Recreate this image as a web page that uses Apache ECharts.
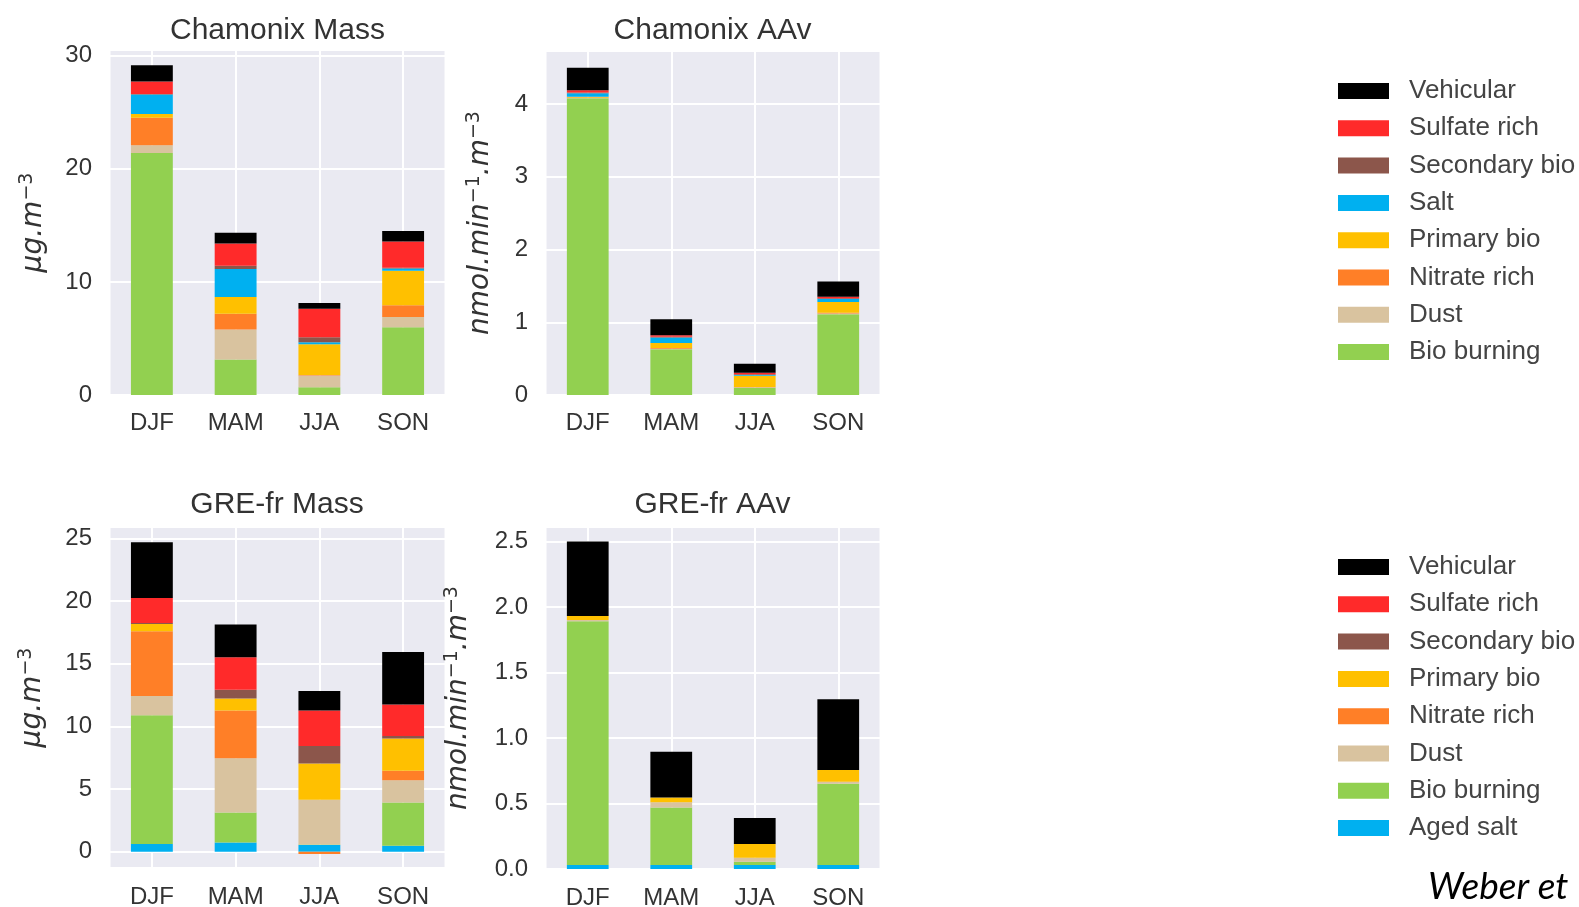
<!DOCTYPE html>
<html>
<head>
<meta charset="utf-8">
<script src="https://cdn.jsdelivr.net/npm/echarts@6/dist/echarts.min.js"></script>
<style>
  html, body { margin: 0; padding: 0; background: #ffffff; }
  #chart { width: 1579px; height: 907px; }
</style>
</head>
<body>
<div id="chart"></div>
<script>
// Seasons on the x axis
const seasons = ['DJF', 'MAM', 'JJA', 'SON'];

// Chamonix, PM10 mass contributions (µg/m3), stacked bottom to top
const chamMassBioBurning   = [21.4, 3.14, 0.68, 6.00];
const chamMassDust         = [0.67, 2.66, 1.04, 0.89];
const chamMassNitrate      = [2.43, 1.39, 0.05, 1.04];
const chamMassPrimaryBio   = [0.35, 1.48, 2.72, 3.05];
const chamMassSalt         = [1.72, 2.48, 0.18, 0.20];
const chamMassSecondaryBio = [0.05, 0.27, 0.44, 0.06];
const chamMassSulfate      = [1.10, 1.98, 2.51, 2.34];
const chamMassVehicular    = [1.44, 0.95, 0.51, 0.92];

// Chamonix, ascorbic acid OP (nmol/min/m3)
const chamAAvBioBurning   = [4.08, 0.63, 0.10, 1.11];
const chamAAvDust         = [0.005, 0.005, 0.005, 0.01];
const chamAAvNitrate      = [0.005, 0.01, 0.005, 0.01];
const chamAAvPrimaryBio   = [0.01, 0.07, 0.155, 0.15];
const chamAAvSalt         = [0.05, 0.075, 0.01, 0.04];
const chamAAvSecondaryBio = [0.01, 0.01, 0.01, 0.01];
const chamAAvSulfate      = [0.03, 0.02, 0.02, 0.02];
const chamAAvVehicular    = [0.31, 0.22, 0.125, 0.21];

// Grenoble, PM10 mass contributions (µg/m3)
const greMassAgedSalt     = [0.61, 0.74, 0.53, 0.48];
const greMassBioBurning   = [10.27, 2.39, 0.05, 3.45];
const greMassDust         = [1.53, 4.32, 3.56, 1.77];
const greMassNitrate      = [5.18, 3.82, -0.19, 0.75];
const greMassPrimaryBio   = [0.58, 0.96, 2.89, 2.57];
const greMassSecondaryBio = [0.08, 0.69, 1.41, 0.21];
const greMassSulfate      = [1.99, 2.60, 2.83, 2.52];
const greMassVehicular    = [4.45, 2.60, 1.54, 4.17];

// Grenoble, ascorbic acid OP (nmol/min/m3)
const greAAvAgedSalt     = [0.03, 0.03, 0.03, 0.03];
const greAAvBioBurning   = [1.86, 0.44, 0.025, 0.62];
const greAAvDust         = [0.01, 0.04, 0.03, 0.015];
const greAAvNitrate      = [0, 0, 0, 0];
const greAAvPrimaryBio   = [0.03, 0.035, 0.105, 0.09];
const greAAvSecondaryBio = [0, 0, 0, 0];
const greAAvSulfate      = [0, 0, 0, 0];
const greAAvVehicular    = [0.57, 0.35, 0.20, 0.54];

// Legend entries, top to bottom
const legendChamonix = ['Vehicular', 'Sulfate rich', 'Secondary bio', 'Salt', 'Primary bio', 'Nitrate rich', 'Dust', 'Bio burning'];
const legendGrenoble = ['Vehicular', 'Sulfate rich', 'Secondary bio', 'Primary bio', 'Nitrate rich', 'Dust', 'Bio burning', 'Aged salt'];

const sourceColors = {
  'Vehicular': '#000000',
  'Sulfate rich': '#FF2A2A',
  'Secondary bio': '#8C564B',
  'Salt': '#00B0F0',
  'Aged salt': '#00B0F0',
  'Primary bio': '#FFC000',
  'Nitrate rich': '#FF7F27',
  'Dust': '#D9C39F',
  'Bio burning': '#92D050'
};

const TICK_FONT = 'Liberation Sans';
const TEXT_COLOR = '#333333';

function stackSeries(idx, parts) {
  return parts.map(([name, values]) => ({
    name: name,
    type: 'bar',
    xAxisIndex: idx,
    yAxisIndex: idx,
    stack: 'panel' + idx,
    data: values,
    barWidth: '50%',
    itemStyle: { color: sourceColors[name] },
    emphasis: { disabled: true }
  }));
}

const series = [].concat(
  stackSeries(0, [
    ['Bio burning', chamMassBioBurning], ['Dust', chamMassDust], ['Nitrate rich', chamMassNitrate],
    ['Primary bio', chamMassPrimaryBio], ['Salt', chamMassSalt], ['Secondary bio', chamMassSecondaryBio],
    ['Sulfate rich', chamMassSulfate], ['Vehicular', chamMassVehicular]
  ]),
  stackSeries(1, [
    ['Bio burning', chamAAvBioBurning], ['Dust', chamAAvDust], ['Nitrate rich', chamAAvNitrate],
    ['Primary bio', chamAAvPrimaryBio], ['Salt', chamAAvSalt], ['Secondary bio', chamAAvSecondaryBio],
    ['Sulfate rich', chamAAvSulfate], ['Vehicular', chamAAvVehicular]
  ]),
  stackSeries(2, [
    ['Aged salt', greMassAgedSalt], ['Bio burning', greMassBioBurning], ['Dust', greMassDust],
    ['Nitrate rich', greMassNitrate], ['Primary bio', greMassPrimaryBio], ['Secondary bio', greMassSecondaryBio],
    ['Sulfate rich', greMassSulfate], ['Vehicular', greMassVehicular]
  ]),
  stackSeries(3, [
    ['Aged salt', greAAvAgedSalt], ['Bio burning', greAAvBioBurning], ['Dust', greAAvDust],
    ['Nitrate rich', greAAvNitrate], ['Primary bio', greAAvPrimaryBio], ['Secondary bio', greAAvSecondaryBio],
    ['Sulfate rich', greAAvSulfate], ['Vehicular', greAAvVehicular]
  ])
);

// Plot areas: [left, top, width, height]
const panels = [
  [110, 50, 335, 345],
  [546, 51, 334, 344],
  [110, 527, 335, 341],
  [546, 527, 334, 342]
];

const grids = panels.map(p => ({
  left: p[0], top: p[1], width: p[2], height: p[3],
  show: true, backgroundColor: '#EAEAF2', borderColor: '#FFFFFF', borderWidth: 1,
  containLabel: false,
  outerBoundsMode: 'none'
}));

const xAxes = panels.map((p, i) => ({
  type: 'category',
  gridIndex: i,
  data: seasons,
  axisLine: { show: false },
  axisTick: { show: false },
  axisLabel: { fontSize: 24, fontFamily: TICK_FONT, color: TEXT_COLOR, margin: i < 2 ? 16 : 17 },
  splitLine: { show: true, alignWithLabel: true, lineStyle: { color: '#FFFFFF', width: 2 } }
}));

function stepFormatter(step, digits) {
  return v => {
    const r = v / step;
    return Math.abs(r - Math.round(r)) < 1e-6 ? v.toFixed(digits) : '';
  };
}

// Italic unit text with raised exponents
const richLabel = {
  t: { fontFamily: 'DejaVu Sans', fontStyle: 'italic', fontSize: 28, color: TEXT_COLOR, lineHeight: 30, verticalAlign: 'bottom' },
  s: { fontFamily: 'DejaVu Sans', fontSize: 19, color: TEXT_COLOR, lineHeight: 19, padding: [0, 0, 11, 0], verticalAlign: 'bottom' }
};

const yDefs = [
  { min: 0, max: 30.5, split: 3, step: 10, digits: 0, name: '{t|μg.m}{s|−3}', gap: 62 },
  { min: 0, max: 4.73, split: 5, step: 1, digits: 0, name: '{t|nmol.min}{s|−1}{t|.m}{s|−3}', gap: 51 },
  { min: -1.3, max: 25.9, split: 5, step: 5, digits: 0, name: '{t|μg.m}{s|−3}', gap: 63 },
  { min: 0, max: 2.61, split: 5, step: 0.5, digits: 1, name: '{t|nmol.min}{s|−1}{t|.m}{s|−3}', gap: 73 }
];

const yAxes = yDefs.map((d, i) => ({
  type: 'value',
  gridIndex: i,
  min: d.min,
  max: d.max,
  splitNumber: d.split,
  name: d.name,
  nameLocation: 'middle',
  nameRotate: 90,
  nameGap: d.gap,
  nameTextStyle: { rich: richLabel },
  axisLine: { show: false },
  axisTick: { show: false },
  axisLabel: {
    fontSize: 24, fontFamily: TICK_FONT, color: TEXT_COLOR, margin: 18,
    formatter: stepFormatter(d.step, d.digits)
  },
  splitLine: { show: true, lineStyle: { color: '#FFFFFF', width: 2 } }
}));

const titleTexts = [
  ['Chamonix Mass', 277.5, 31],
  ['Chamonix AAv', 712.5, 31],
  ['GRE-fr Mass', 277, 505],
  ['GRE-fr AAv', 712.5, 505]
];

const graphics = titleTexts.map(([text, x, y]) => ({
  type: 'text', x: x, y: y, silent: true,
  style: { text: text, fontSize: 30, fontFamily: TICK_FONT, fill: TEXT_COLOR, align: 'center', verticalAlign: 'middle' }
}));
graphics.push({
  type: 'text', x: 1428, y: 887, silent: true,
  style: { text: 'Weber et', fontSize: 37, fontFamily: 'Lato', fontStyle: 'italic', fill: '#000000', align: 'left', verticalAlign: 'middle' }
});

function legendAt(top, names) {
  return {
    orient: 'vertical', left: 1333, top: top,
    itemWidth: 51, itemHeight: 16, itemGap: 11.3, icon: 'rect',
    selectedMode: false,
    data: names,
    textStyle: { fontSize: 26, fontFamily: TICK_FONT, color: '#444444', lineHeight: 25, padding: [0, 0, 0, 15] }
  };
}

const chart = echarts.init(document.getElementById('chart'), null, { renderer: 'canvas' });
chart.setOption({
  animation: false,
  backgroundColor: '#FFFFFF',
  grid: grids,
  xAxis: xAxes,
  yAxis: yAxes,
  legend: [legendAt(73, legendChamonix), legendAt(549, legendGrenoble)],
  graphic: graphics,
  series: series
});
</script>
</body>
</html>
